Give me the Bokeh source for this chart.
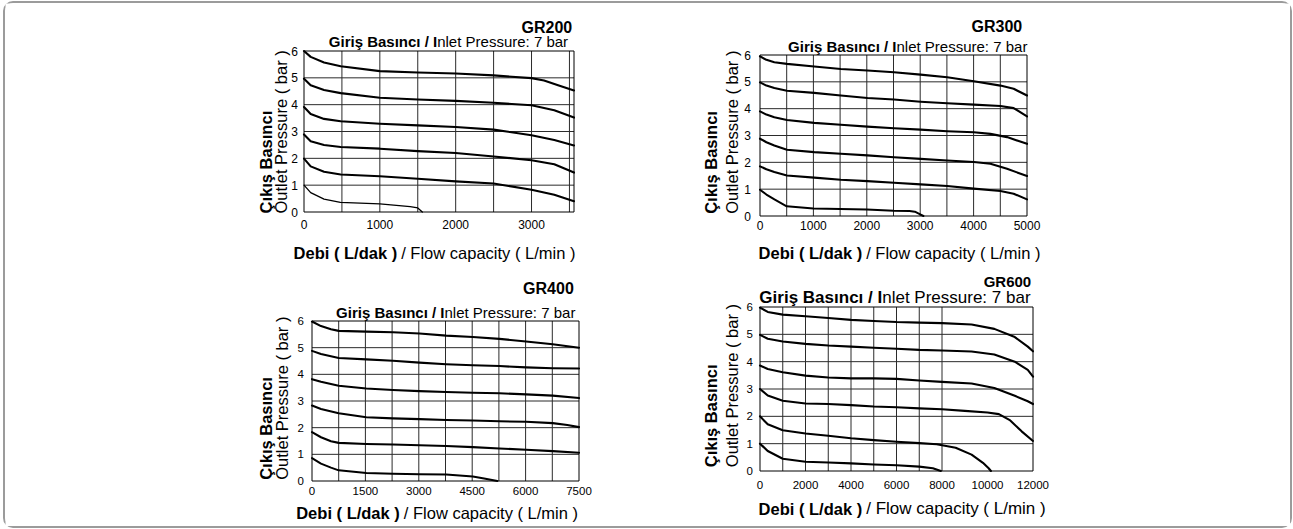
from math import pi
from bokeh.plotting import figure
from bokeh.models import FixedTicker, Range1d, Column, Row, Spacer
from bokeh.core.properties import value
from bokeh.embed import file_html
from bokeh.resources import INLINE

FONT = "Liberation Sans"

# ---------------- data ----------------
y_max = 6
y_ticks = [0, 1, 2, 3, 4, 5, 6]
y_grid = [1, 2, 3, 4, 5]

# GR200
gr200_xmax = 3560
gr200_xticks = [0, 1000, 2000, 3000]
gr200_xgrid = [500, 1000, 1500, 2000, 2500, 3000, 3500]
gr200_p6_x = [0, 88, 264, 484, 1000, 1500, 2000, 2500, 3000, 3165, 3350, 3560]
gr200_p6_y = [6.0, 5.78, 5.57, 5.43, 5.25, 5.2, 5.16, 5.09, 4.99, 4.9, 4.72, 4.53]
gr200_p5_x = [0, 88, 264, 484, 1000, 1500, 2000, 2500, 3000, 3300, 3560]
gr200_p5_y = [4.97, 4.72, 4.55, 4.43, 4.26, 4.19, 4.14, 4.07, 3.98, 3.79, 3.52]
gr200_p4_x = [0, 88, 264, 484, 1000, 1500, 2000, 2500, 3000, 3300, 3560]
gr200_p4_y = [3.91, 3.65, 3.47, 3.38, 3.29, 3.23, 3.17, 3.07, 2.86, 2.68, 2.48]
gr200_p3_x = [0, 88, 264, 484, 1000, 1500, 2000, 2500, 3000, 3300, 3560]
gr200_p3_y = [2.89, 2.64, 2.5, 2.42, 2.36, 2.27, 2.2, 2.07, 1.93, 1.78, 1.47]
gr200_p2_x = [0, 88, 264, 484, 1000, 1500, 2000, 2500, 3000, 3300, 3560]
gr200_p2_y = [1.99, 1.7, 1.5, 1.4, 1.33, 1.24, 1.14, 1.06, 0.83, 0.64, 0.4]
gr200_p1_x = [0, 88, 264, 480, 1000, 1400, 1500, 1560]
gr200_p1_y = [1.0, 0.72, 0.48, 0.36, 0.3, 0.2, 0.15, 0.0]

# GR300
gr300_xmax = 5000
gr300_xticks = [0, 1000, 2000, 3000, 4000, 5000]
gr300_xgrid = [500, 1000, 1500, 2000, 2500, 3000, 3500, 4000, 4500]
gr300_p6_x = [0, 120, 268, 504, 1015, 1513, 2011, 2509, 3007, 3506, 4004, 4502, 4750, 5000]
gr300_p6_y = [5.95, 5.82, 5.73, 5.67, 5.57, 5.48, 5.42, 5.36, 5.27, 5.17, 5.02, 4.86, 4.74, 4.49]
gr300_p5_x = [0, 120, 268, 504, 1015, 1513, 2011, 2509, 3007, 3506, 4004, 4502, 4750, 5000]
gr300_p5_y = [4.98, 4.86, 4.77, 4.67, 4.59, 4.49, 4.4, 4.34, 4.26, 4.2, 4.15, 4.1, 4.02, 3.71]
gr300_p4_x = [0, 120, 268, 504, 1015, 1513, 2011, 2509, 3007, 3506, 4004, 4315, 4626, 5000]
gr300_p4_y = [3.9, 3.78, 3.68, 3.58, 3.47, 3.4, 3.33, 3.27, 3.22, 3.16, 3.12, 3.06, 2.94, 2.69]
gr300_p3_x = [0, 120, 268, 504, 1015, 1513, 2011, 2509, 3007, 3506, 4004, 4315, 4626, 5000]
gr300_p3_y = [2.88, 2.75, 2.63, 2.47, 2.38, 2.32, 2.26, 2.19, 2.13, 2.07, 2.01, 1.95, 1.76, 1.49]
gr300_p2_x = [0, 120, 268, 504, 1015, 1513, 2011, 2509, 3007, 3506, 4004, 4502, 4750, 5000]
gr300_p2_y = [1.85, 1.74, 1.64, 1.51, 1.43, 1.35, 1.3, 1.24, 1.18, 1.12, 1.02, 0.93, 0.83, 0.62]
gr300_p1_x = [0, 120, 270, 500, 1000, 2000, 2500, 2800, 2900, 3000, 3060]
gr300_p1_y = [0.98, 0.8, 0.62, 0.36, 0.28, 0.24, 0.2, 0.19, 0.16, 0.06, 0.0]

# GR400
gr400_xmax = 7500
gr400_xticks = [0, 1500, 3000, 4500, 6000, 7500]
gr400_xgrid = [750, 1500, 2250, 3000, 3750, 4500, 5250, 6000, 6750]
gr400_p6_x = [0, 252, 533, 750, 1525, 2272, 3020, 3769, 4517, 5265, 6013, 6761, 7500]
gr400_p6_y = [5.98, 5.81, 5.69, 5.63, 5.6, 5.58, 5.53, 5.45, 5.4, 5.33, 5.23, 5.13, 5.0]
gr400_p5_x = [0, 252, 750, 1525, 2272, 3020, 3769, 4517, 5265, 6013, 6761, 7500]
gr400_p5_y = [4.88, 4.76, 4.61, 4.56, 4.51, 4.44, 4.38, 4.34, 4.31, 4.26, 4.23, 4.22]
gr400_p4_x = [0, 252, 750, 1525, 2272, 3020, 3769, 4517, 5265, 6013, 6761, 7500]
gr400_p4_y = [3.82, 3.72, 3.57, 3.47, 3.41, 3.37, 3.34, 3.31, 3.29, 3.25, 3.2, 3.11]
gr400_p3_x = [0, 252, 750, 1525, 2272, 3020, 3769, 4517, 5265, 6013, 6761, 7172, 7500]
gr400_p3_y = [2.83, 2.7, 2.54, 2.39, 2.35, 2.32, 2.29, 2.27, 2.24, 2.22, 2.17, 2.1, 2.02]
gr400_p2_x = [0, 252, 533, 750, 1525, 2272, 3020, 3769, 4517, 5265, 6013, 6761, 7500]
gr400_p2_y = [1.83, 1.64, 1.49, 1.43, 1.39, 1.37, 1.34, 1.31, 1.27, 1.22, 1.17, 1.12, 1.06]
gr400_p1_x = [0, 252, 533, 750, 1525, 2272, 3020, 3769, 4517, 4835, 5208]
gr400_p1_y = [0.86, 0.65, 0.5, 0.4, 0.3, 0.27, 0.25, 0.24, 0.17, 0.09, 0.0]

# GR600
gr600_xmax = 12000
gr600_xticks = [0, 2000, 4000, 6000, 8000, 10000, 12000]
gr600_xgrid = [1000, 2000, 3000, 4000, 5000, 6000, 7000, 8000]
gr600_p6_x = [0, 340, 1000, 2000, 3000, 4000, 5000, 6000, 7000, 8000, 9300, 10300, 11200, 11770, 12000]
gr600_p6_y = [5.98, 5.82, 5.72, 5.66, 5.6, 5.53, 5.49, 5.45, 5.43, 5.41, 5.36, 5.2, 4.9, 4.55, 4.38]
gr600_p5_x = [0, 340, 1000, 2000, 3000, 4000, 5000, 6000, 7000, 8000, 9300, 10300, 11200, 11770, 12000]
gr600_p5_y = [4.98, 4.84, 4.74, 4.65, 4.59, 4.55, 4.51, 4.47, 4.43, 4.41, 4.37, 4.26, 4.0, 3.7, 3.45]
gr600_p4_x = [0, 340, 1000, 2000, 3000, 4000, 5000, 6000, 7000, 8000, 9300, 10300, 11200, 11770, 12000]
gr600_p4_y = [3.86, 3.73, 3.61, 3.49, 3.42, 3.39, 3.39, 3.37, 3.31, 3.26, 3.2, 3.04, 2.75, 2.55, 2.45]
gr600_p3_x = [0, 340, 1000, 2000, 3000, 4000, 5000, 6000, 7000, 8000, 9000, 10000, 10500, 11000, 11500, 12000]
gr600_p3_y = [3.0, 2.76, 2.57, 2.47, 2.45, 2.41, 2.36, 2.33, 2.29, 2.26, 2.2, 2.14, 2.08, 1.85, 1.45, 1.1]
gr600_p2_x = [0, 340, 1000, 2000, 3000, 4000, 5000, 6000, 7000, 7770, 8600, 9300, 9800, 10050, 10150]
gr600_p2_y = [2.0, 1.71, 1.49, 1.37, 1.29, 1.2, 1.13, 1.07, 1.02, 0.98, 0.85, 0.6, 0.3, 0.1, 0.0]
gr600_p1_x = [0, 340, 1000, 2000, 3000, 4000, 5000, 6000, 7000, 7600, 7950]
gr600_p1_y = [1.0, 0.73, 0.45, 0.34, 0.31, 0.28, 0.24, 0.21, 0.16, 0.1, 0.0]

titles = ["GR200", "GR300", "GR400", "GR600"]
sub_bold = "Giriş Basıncı / I"
sub_norm = "nlet Pressure: 7 bar"
xt_bold = "Debi ( L/dak )"
xt_norm = "/ Flow capacity ( L/min )"
yt_bold = "Çıkış Basıncı"
yt_norm = "Outlet Pressure ( bar )"


def chart(title, xmax, xticks, xgrid, curves, widths, geom, area, st_x, st_y, tick_size, tpos):
    ox, oy, W, H = geom          # figure position / size on the page
    L, R, T, B = area            # plot-area box on the page
    a, b = L - ox, R - ox
    t, bb = T - oy, B - oy
    sx = xmax / (b - a)
    sy = y_max / (bb - t)
    p = figure(width=W, height=H,
               x_range=Range1d(-a * sx, xmax + (W - b) * sx),
               y_range=Range1d(-(H - bb) * sy, y_max + t * sy),
               min_border=0, toolbar_location=None, tools="", output_backend="svg")
    p.outline_line_color = None
    p.background_fill_color = "white"
    p.border_fill_color = "white"
    p.grid.visible = False

    def dx(px):
        return (px - ox - a) * sx

    def dy(py):
        return (bb - (py - oy)) * sy

    # axes drawn by bokeh at the plot-area edges
    p.xaxis.fixed_location = 0
    p.yaxis.fixed_location = 0
    p.xaxis.ticker = FixedTicker(ticks=xticks)
    p.yaxis.ticker = FixedTicker(ticks=y_ticks)
    for ax, st in ((p.xaxis, st_x), (p.yaxis, st_y)):
        ax.axis_line_color = None
        ax.major_tick_line_color = None
        ax.minor_tick_line_color = None
        ax.major_tick_out = 0
        ax.major_tick_in = 0
        ax.minor_tick_out = 0
        ax.major_label_standoff = st
        ax.major_label_text_font = FONT
        ax.major_label_text_font_size = tick_size
        ax.major_label_text_color = "black"

    # grid lines limited to the plot area
    p.segment(x0=xgrid, y0=[0] * len(xgrid), x1=xgrid, y1=[y_max] * len(xgrid),
              line_color="#2b2b2b", line_width=1)
    p.segment(x0=[0] * len(y_grid), y0=y_grid, x1=[xmax] * len(y_grid), y1=y_grid,
              line_color="#2b2b2b", line_width=1)
    p.quad(left=[0], right=[xmax], bottom=[0], top=[y_max],
           fill_color=None, line_color="black", line_width=1)

    for (cx, cy), w in zip(curves, widths):
        p.line(cx, cy, line_color="black", line_width=w, line_join="round", line_cap="round")

    def txt(s, px, py, size, bold, align, angle=0.0):
        p.text(x=[dx(px)], y=[dy(py)], text=[s], angle=angle,
               text_font=value(FONT), text_font_size=value(size),
               text_font_style=value("bold" if bold else "normal"),
               text_align=value(align), text_baseline=value("alphabetic"),
               text_color="black")

    (tr, tb, ts), (sj, sb, ss), (xe, xb, xs1, xs2), (yb1, yb2, ystart, ys) = tpos
    txt(title, tr, tb, ts, True, "right")
    txt(sub_bold, sj, sb, ss, True, "right")
    txt(sub_norm, sj, sb, ss, False, "left")
    txt(xt_bold, xe, xb, xs1, True, "right")
    txt(xt_norm, xe + 4, xb, xs2, False, "left")
    txt(yt_bold, yb1, ystart, ys, True, "left", pi / 2)
    txt(yt_norm, yb2, ystart, ys, False, "left", pi / 2)
    return p


f200 = chart(titles[0], gr200_xmax, gr200_xticks, gr200_xgrid,
             [(gr200_p6_x, gr200_p6_y), (gr200_p5_x, gr200_p5_y), (gr200_p4_x, gr200_p4_y),
              (gr200_p3_x, gr200_p3_y), (gr200_p2_x, gr200_p2_y), (gr200_p1_x, gr200_p1_y)],
             [2.1, 2.1, 2.1, 2.1, 2.1, 1.3],
             (5, 3, 655, 263), (303.5, 573.5, 50.5, 211.5), 8, 6, "12px",
             ((571.7, 27, "16px"), (436.7, 41, "15px"), (396.7, 252.7, "16.5px", "16.5px"),
              (265, 280.7, 213, "16.5px")))

f300 = chart(titles[1], gr300_xmax, gr300_xticks, gr300_xgrid,
             [(gr300_p6_x, gr300_p6_y), (gr300_p5_x, gr300_p5_y), (gr300_p4_x, gr300_p4_y),
              (gr300_p3_x, gr300_p3_y), (gr300_p2_x, gr300_p2_y), (gr300_p1_x, gr300_p1_y)],
             [2.1, 2.1, 2.1, 2.1, 2.1, 2.0],
             (660, 3, 630, 263), (759.5, 1026.5, 54.5, 215.5), 5, 9, "12px",
             ((1021.7, 26, "16px"), (896, 46, "15px"), (861.7, 252.7, "16.5px", "16.5px"),
              (710.7, 731, 213.3, "16.5px")))

f400 = chart(titles[2], gr400_xmax, gr400_xticks, gr400_xgrid,
             [(gr400_p6_x, gr400_p6_y), (gr400_p5_x, gr400_p5_y), (gr400_p4_x, gr400_p4_y),
              (gr400_p3_x, gr400_p3_y), (gr400_p2_x, gr400_p2_y), (gr400_p1_x, gr400_p1_y)],
             [2.1, 2.1, 2.1, 2.1, 2.1, 2.0],
             (5, 266, 655, 260), (311.5, 578.5, 320.5, 480.5), 6, 8, "11.5px",
             ((573.3, 288.3, "16px"), (444, 311.7, "15px"), (399.3, 512.7, "16.5px", "16.5px"),
              (265, 281.5, 479.3, "16.5px")))

f600 = chart(titles[3], gr600_xmax, gr600_xticks, gr600_xgrid,
             [(gr600_p6_x, gr600_p6_y), (gr600_p5_x, gr600_p5_y), (gr600_p4_x, gr600_p4_y),
              (gr600_p3_x, gr600_p3_y), (gr600_p2_x, gr600_p2_y), (gr600_p1_x, gr600_p1_y)],
             [2.1, 2.1, 2.1, 2.1, 2.1, 2.1],
             (660, 266, 630, 260), (759.5, 1032.5, 306.5, 470.5), 10, 7, "11.5px",
             ((1030.7, 281, "15px"), (881.7, 296.7, "17px"), (861.7, 508.3, "16.5px", "17px"),
              (710.7, 731, 466.7, "16.5px")))

boxed = Column(Row(f200, f300, spacing=0), Row(f400, f600, spacing=0), spacing=0,
               styles={"border": "2px solid #9b9b9b", "border-radius": "10px",
                       "background-color": "white"})
root = Column(Spacer(width=1, height=1), Row(Spacer(width=3, height=1), boxed, spacing=0), spacing=0)

open("out.html", "w").write(file_html(root, INLINE))
